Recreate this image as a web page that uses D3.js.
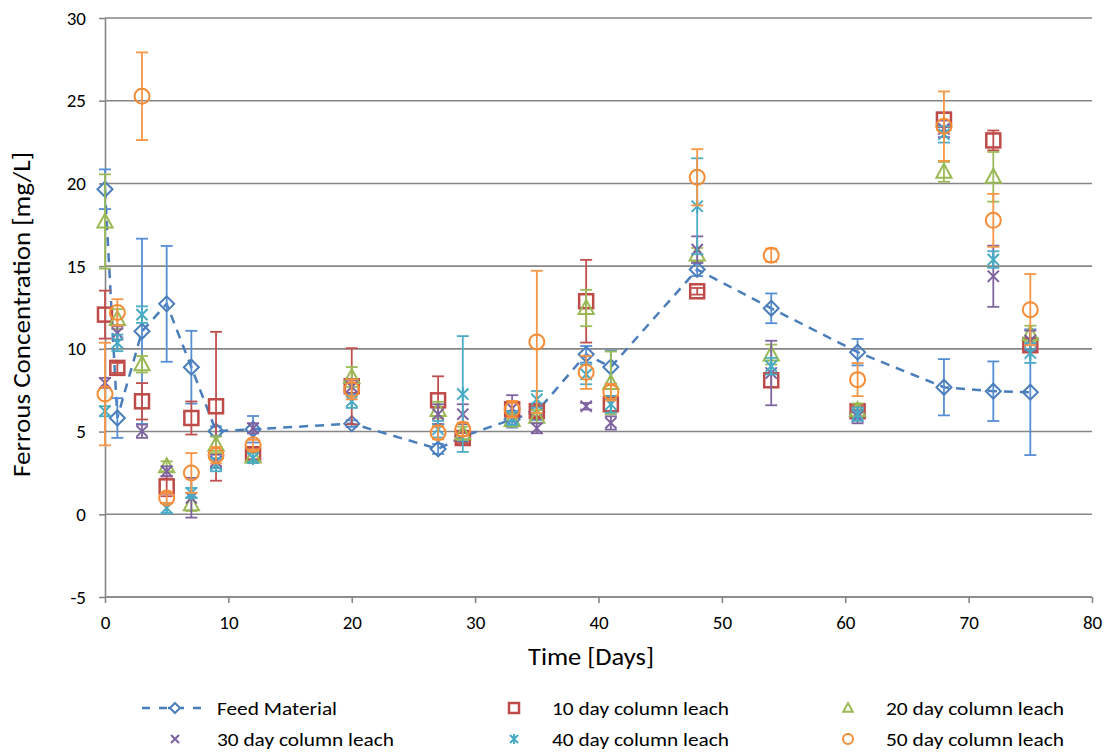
<!DOCTYPE html>
<html><head><meta charset="utf-8">
<script src="https://cdn.jsdelivr.net/npm/d3@7"></script>
<style>body{margin:0;background:#fff;}svg{display:block;font-family:Calibri,Carlito,Lato,sans-serif;}</style>
</head><body>
<svg id="c" width="1112" height="753"></svg>
<script>
const times = [0,1,3,5,7,9,12,20,27,29,33,35,39,41,48,54,61,68,72,75];
const feed = [19.65,5.82,11.06,12.72,8.89,5.02,5.14,5.48,3.95,4.7,5.74,6.2,9.67,8.9,14.8,12.45,9.8,7.68,7.44,7.38];
const feedErr = [1.2,1.2,5.6,3.5,2.2,0.3,0.8,0.2,0.3,0.3,0.5,0.5,0.5,1.0,0.4,0.9,0.8,1.7,1.8,3.8];
const d10 = [12.07,8.85,6.83,1.69,5.82,6.53,3.63,7.74,6.89,4.61,6.35,6.23,12.88,6.65,13.48,8.1,6.23,23.86,22.6,10.22];
const d10Err = [1.45,0.3,1.1,0.6,1.0,4.5,0.3,2.3,1.45,0.3,0.5,0.3,2.5,0.5,0.2,0.4,0.3,0.4,0.6,0.3];
const d20 = [17.7,11.8,9.07,2.9,0.6,4.2,3.5,8.3,6.3,4.9,5.7,5.9,12.47,7.94,15.7,9.66,6.3,20.7,20.4,10.9];
const d20Err = [2.85,0.6,0.5,0.3,0.4,0.5,0.3,0.6,0.5,0.4,0.4,0.4,1.1,1.9,0.4,0.6,0.4,0.6,1.5,0.5];
const d30 = [7.94,10.96,5.02,2.6,1.0,3.2,5.2,7.7,6.05,6.05,6.4,5.2,6.53,5.52,16.0,8.54,5.9,23.3,14.39,10.5];
const d30Err = [0.3,0.4,0.4,0.3,1.2,0.4,0.3,0.4,0.6,0.6,0.8,0.3,0.2,0.4,0.8,1.95,0.4,0.5,1.85,0.6];
const d40 = [6.23,10.36,12.07,0.38,1.29,3.0,3.4,6.83,5.14,7.27,5.8,6.95,8.46,6.65,18.62,8.95,6.05,22.97,15.4,9.75];
const d40Err = [0.3,0.5,0.5,0.3,0.3,0.4,0.3,0.4,0.5,3.5,0.4,0.5,0.6,0.5,2.9,0.5,0.4,0.5,0.5,0.6];
const d50 = [7.27,12.2,25.27,0.99,2.5,3.57,4.2,7.55,4.93,5.14,6.35,10.42,8.58,7.38,20.37,15.66,8.14,23.46,17.77,12.37];
const d50Err = [3.1,0.8,2.65,0.3,1.2,0.5,0.3,0.6,0.4,0.4,0.5,4.3,1.0,0.5,1.7,0.4,1.0,2.1,1.6,2.15];
const seriesNames = ["Feed Material","10 day column leach","20 day column leach","30 day column leach","40 day column leach","50 day column leach"];
const xTicks = [0,10,20,30,40,50,60,70,80];
const yTicks = [-5,0,5,10,15,20,25,30];
const xTitle = "Time [Days]";
const yTitle = "Ferrous Concentration [mg/L]";

const colors = ["#4A7EBB","#BE4B48","#98B954","#7D60A0","#46AAC5","#F68C36"];
const errColors = ["#558ED5","#C0504D","#9BBB59","#8064A2","#4BACC6","#F79646"];
const symbols = ["diamond","square","triangle","x","asterisk","circle"];
const series = [
  {v:feed,e:feedErr},{v:d10,e:d10Err},{v:d20,e:d20Err},
  {v:d30,e:d30Err},{v:d40,e:d40Err},{v:d50,e:d50Err}
];

const svg = d3.select("#c");
const L=105,R=1092,T=18,B=597;
const x = d3.scaleLinear().domain([0,80]).range([L,R]);
const y = d3.scaleLinear().domain([-5,30]).range([B,T]);

svg.append("g").selectAll("line").data(yTicks).join("line")
  .attr("x1",L).attr("x2",R).attr("y1",d=>y(d)).attr("y2",d=>y(d))
  .attr("stroke","#868686").attr("stroke-width",1.6);

const fmt = d => String(d);
const yAxis = svg.append("g").attr("transform",`translate(${L},0)`)
  .call(d3.axisLeft(y).tickValues(yTicks).tickFormat(fmt).tickSize(6).tickSizeOuter(0).tickPadding(13));
const xAxis = svg.append("g").attr("transform",`translate(0,${B})`)
  .call(d3.axisBottom(x).tickValues(xTicks).tickFormat(fmt).tickSize(6).tickSizeOuter(0).tickPadding(13));
[xAxis,yAxis].forEach(a=>{
  a.select(".domain").attr("stroke","#868686").attr("stroke-width",1.6);
  a.selectAll(".tick line").attr("stroke","#868686").attr("stroke-width",1.6);
  a.selectAll("text").attr("font-size",19).attr("fill","#000").attr("font-family","Calibri,Carlito,Lato,sans-serif");
});
xAxis.select(".domain").remove();
svg.append("line").attr("x1",L).attr("x2",R).attr("y1",B).attr("y2",B).attr("stroke","#868686").attr("stroke-width",1.6);

svg.append("text").attr("x",591).attr("y",665).attr("text-anchor","middle")
  .attr("font-size",24).attr("textLength",126).attr("lengthAdjust","spacingAndGlyphs").text(xTitle);
svg.append("text").attr("transform",`translate(30,314.5) rotate(-90)`).attr("text-anchor","middle")
  .attr("font-size",24).attr("textLength",325).attr("lengthAdjust","spacingAndGlyphs").text(yTitle);

function drawSymbol(g,type,cx,cy,s,color){
  const sw=2;
  if(type==="diamond"){
    g.append("path").attr("d",`M${cx},${cy-s}L${cx+s},${cy}L${cx},${cy+s}L${cx-s},${cy}Z`)
      .attr("fill","none").attr("stroke",color).attr("stroke-width",sw);
  } else if(type==="square"){
    g.append("rect").attr("x",cx-s).attr("y",cy-s).attr("width",2*s).attr("height",2*s)
      .attr("fill","none").attr("stroke",color).attr("stroke-width",sw+0.5);
  } else if(type==="triangle"){
    g.append("path").attr("d",`M${cx},${cy-s}L${cx+s*0.95},${cy+s*0.75}L${cx-s*0.95},${cy+s*0.75}Z`)
      .attr("fill","none").attr("stroke",color).attr("stroke-width",sw);
  } else if(type==="x"){
    const k=s*0.8;
    g.append("path").attr("d",`M${cx-k},${cy-k}L${cx+k},${cy+k}M${cx-k},${cy+k}L${cx+k},${cy-k}`)
      .attr("stroke",color).attr("stroke-width",sw);
  } else if(type==="asterisk"){
    const k=s*0.8;
    g.append("path").attr("d",`M${cx-k},${cy-k}L${cx+k},${cy+k}M${cx-k},${cy+k}L${cx+k},${cy-k}M${cx},${cy-s}L${cx},${cy+s}`)
      .attr("stroke",color).attr("stroke-width",sw);
  } else if(type==="circle"){
    g.append("circle").attr("cx",cx).attr("cy",cy).attr("r",s)
      .attr("fill","none").attr("stroke",color).attr("stroke-width",sw);
  }
}

svg.append("path").datum(times.map((t,i)=>[t,feed[i]]))
  .attr("d",d3.line().x(d=>x(d[0])).y(d=>y(d[1])))
  .attr("fill","none").attr("stroke","#4A7EBB").attr("stroke-width",2.5).attr("stroke-dasharray","9,7");

const sizes=[7.5,7,8,7,7,7.5];
series.forEach((s,si)=>{
  const g=svg.append("g");
  times.forEach((t,i)=>{
    const cx=x(t), y1=y(s.v[i]+s.e[i]), y2=y(s.v[i]-s.e[i]);
    g.append("line").attr("x1",cx).attr("x2",cx).attr("y1",y1).attr("y2",y2)
      .attr("stroke",errColors[si]).attr("stroke-width",1.8);
    [y1,y2].forEach(yy=>g.append("line").attr("x1",cx-6).attr("x2",cx+6).attr("y1",yy).attr("y2",yy)
      .attr("stroke",errColors[si]).attr("stroke-width",1.8));
  });
  times.forEach((t,i)=>drawSymbol(g,symbols[si],x(t),y(s.v[i]),sizes[si],colors[si]));
});

const legPos=[[175,708],[514,708],[848,708],[175,739],[514,739],[848,739]];
const legTextX=[217,552,886,217,552,886];
const legTextW=[120,177,178,177,177,178];
series.forEach((s,si)=>{
  const g=svg.append("g");
  const [lx,ly]=legPos[si];
  if(si===0){
    g.append("line").attr("x1",142).attr("x2",204).attr("y1",ly).attr("y2",ly)
      .attr("stroke","#4A7EBB").attr("stroke-width",2.5).attr("stroke-dasharray","8,9");
    g.append("rect").attr("x",lx-7).attr("y",ly-7).attr("width",14).attr("height",14).attr("fill","#fff");
    g.append("line").attr("x1",lx-7).attr("x2",lx+7).attr("y1",ly).attr("y2",ly)
      .attr("stroke","#4A7EBB").attr("stroke-width",2.5);
    g.append("path").attr("d",`M${lx},${ly-5}L${lx+5},${ly}L${lx},${ly+5}L${lx-5},${ly}Z`).attr("fill","#fff");
  }
  drawSymbol(g,symbols[si],lx,ly,5,colors[si]);
  g.append("text").attr("x",legTextX[si]).attr("y",ly+7).attr("font-size",19)
    .attr("textLength",legTextW[si]).attr("lengthAdjust","spacingAndGlyphs").text(seriesNames[si]);
});
</script>
</body></html>
